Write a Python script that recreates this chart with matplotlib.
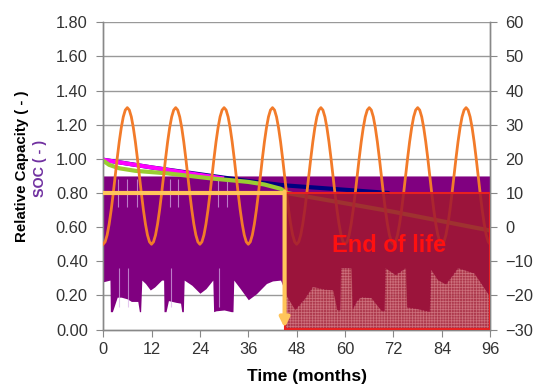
import numpy as np
import matplotlib
matplotlib.use("Agg")
import matplotlib.pyplot as plt
from matplotlib.patches import Rectangle

plt.rcParams['font.family'] = ['Liberation Sans', 'DejaVu Sans']
plt.rcParams['hatch.linewidth'] = 0.5

# ---------------- data ----------------
x_ticks = [0, 12, 24, 36, 48, 60, 72, 84, 96]
left_ticks = [0.0, 0.2, 0.4, 0.6, 0.8, 1.0, 1.2, 1.4, 1.6, 1.8]
right_ticks = [-30, -20, -10, 0, 10, 20, 30, 40, 50, 60]

# SOC band: top level and lower envelope (left axis)
soc_top = 0.90
soc_months = [0, 1.7, 1.8, 2.3, 3.5, 4.5, 6, 7, 8.6, 9.0, 9.3, 9.6, 10.5, 11.7, 12.8,
              14.5, 15.0, 15.1, 15.6, 16.2, 18, 19.2, 19.5, 19.9, 20.1, 22, 24, 25.5,
              27.2, 27.4, 28, 30, 31.8, 32.2, 32.4, 34, 36, 38, 40.5, 42, 44, 45.6,
              47.6, 50, 52, 55, 57, 58, 58.8, 59.0, 61.5, 61.8, 63, 64, 66.5, 69,
              69.8, 70, 72.5, 75, 75.3, 77, 81, 81.3, 83, 85, 88, 92, 96]
soc_min = [0.28, 0.29, 0.105, 0.105, 0.19, 0.19, 0.18, 0.165, 0.165, 0.105, 0.105, 0.29,
           0.27, 0.232, 0.25, 0.29, 0.29, 0.105, 0.105, 0.17, 0.16, 0.155, 0.105, 0.105,
           0.29, 0.26, 0.213, 0.24, 0.29, 0.105, 0.11, 0.115, 0.105, 0.105, 0.29, 0.24,
           0.175, 0.21, 0.27, 0.285, 0.29, 0.193, 0.115, 0.18, 0.25, 0.235, 0.23, 0.115,
           0.115, 0.36, 0.36, 0.115, 0.17, 0.19, 0.185, 0.11, 0.11, 0.36, 0.32, 0.36,
           0.13, 0.125, 0.105, 0.35, 0.29, 0.265, 0.36, 0.33, 0.19]
gap_months_upper = [3.7, 5.9, 8.4, 16.6, 18.6, 28.5, 30.7]
gap_months_lower = [4.0, 6.2, 16.9, 28.8]

# Relative capacity curves (left axis)
cap_magenta_months = [0, 6, 12, 18, 24, 30]
cap_magenta = [0.995, 0.972, 0.95, 0.928, 0.906, 0.885]
cap_navy_months = [0, 12, 24, 30, 36, 45, 56, 64, 71]
cap_navy = [0.995, 0.95, 0.91, 0.89, 0.87, 0.845, 0.826, 0.812, 0.80]
cap_green_months = [0, 1.5, 4, 8, 16, 27, 33, 36, 40, 44, 45.5, 60, 72, 84, 96]
cap_green = [0.99, 0.965, 0.945, 0.93, 0.915, 0.885, 0.872, 0.865, 0.85, 0.825, 0.80,
             0.74, 0.69, 0.635, 0.58]

# Temperature (right axis): one yearly cycle at half-month steps, repeated 8 years
temp_cycle = [-5, -4.3, -2.3, 0.9, 5, 9.8, 15, 20.2, 25, 29.1, 32.3, 34.3,
              35, 34.3, 32.3, 29.1, 25, 20.2, 15, 9.8, 5, 0.9, -2.3, -4.3]
n_years = 8
temp = temp_cycle * n_years + [temp_cycle[0]]
temp_months = [0.5 * i for i in range(len(temp))]

# End-of-life threshold
eol_month = 45
eol_capacity = 0.80
eol_label = "End of life"

# ---------------- figure ----------------
fig = plt.figure(figsize=(5.37, 3.91), dpi=100)
ax = fig.add_axes([0.192, 0.157, 0.721, 0.786])
ax2 = ax.twinx()
ax.set_zorder(ax2.get_zorder() + 1)
ax.patch.set_visible(False)

purple = '#800080'
grid_c = '#999999'

left_lim = (0, 1.8)
right_lim = (-30, 60)
ax.set_xlim(0, 96)
ax.set_ylim(*left_lim)
ax2.set_ylim(*right_lim)

for v in left_ticks[1:]:
    ax.axhline(v, color=grid_c, lw=1.0, zorder=0.5)

# SOC band
ax.fill_between(soc_months, soc_min, soc_top, color=purple, lw=0, zorder=1)
ax.vlines(gap_months_upper, 0.72, 0.885, color='#d8b0e8', lw=0.8, alpha=0.7, zorder=1.1)
ax.vlines(gap_months_lower, 0.13, 0.36, color='#d8b0e8', lw=0.8, alpha=0.7, zorder=1.1)

# capacity curves
ax.plot(cap_navy_months, cap_navy, color='#000080', lw=3, zorder=2, solid_capstyle='butt')
ax.plot(cap_magenta_months, cap_magenta, color='#ff00ff', lw=3, zorder=2.1, solid_capstyle='butt')
ax.plot(cap_green_months, cap_green, color='#9acd32', lw=3, zorder=2.2, solid_capstyle='butt')

# temperature curve: right-axis values mapped onto the left-axis scale
scale = (left_lim[1] - left_lim[0]) / (right_lim[1] - right_lim[0])
temp_on_left = [left_lim[0] + (t - right_lim[0]) * scale for t in temp]
ax.plot(temp_months, temp_on_left, color='#f27b2a', lw=2, zorder=3)

# end-of-life box
ax.add_patch(Rectangle((eol_month, 0.005), 96 - eol_month, eol_capacity - 0.005,
                       facecolor='#a01830', alpha=0.86, edgecolor='none', zorder=4))
# light mesh over the white region under the SOC envelope
sm = np.array(soc_months, dtype=float)
sv = np.array(soc_min, dtype=float)
mask = sm >= eol_month
xs = np.concatenate([[eol_month], sm[mask]])
ys = np.concatenate([[np.interp(eol_month, sm, sv)], sv[mask]])
ax.fill_between(xs, 0.005, ys, facecolor='none', hatch='++++++',
                edgecolor=(1.0, 0.78, 0.78, 0.4), lw=0, zorder=4.1)
ax.add_patch(Rectangle((eol_month, 0.005), 96 - eol_month, eol_capacity - 0.005,
                       facecolor='none', edgecolor='#e82020', lw=1.5, zorder=4.2))

# threshold line and arrow
ax.plot([0, eol_month], [eol_capacity, eol_capacity], color='#ffc55a', lw=3, zorder=5,
        solid_capstyle='butt')
ax.annotate('', xy=(eol_month, 0.01), xytext=(eol_month, eol_capacity + 0.008),
            arrowprops=dict(arrowstyle='-|>', color='#ffc55a', lw=3, mutation_scale=14,
                            shrinkA=0, shrinkB=0), zorder=5)

ax.text(71.0, 0.495, eol_label, color='#ff1010', fontsize=17, fontweight='bold',
        ha='center', va='center', zorder=6)

# axes styling
ax.set_xticks(x_ticks)
ax.set_yticks(left_ticks)
ax.set_yticklabels([f"{v:.2f}" for v in left_ticks])
ax2.set_yticks(right_ticks)
ax.tick_params(axis='both', direction='out', length=5, color='#888888',
               labelsize=11.8, labelcolor='#333333', pad=6)
ax.tick_params(axis='x', pad=4)
ax2.tick_params(axis='y', direction='out', length=5, color='#888888',
                labelsize=11.8, labelcolor='#333333', pad=6)
for a in (ax, ax2):
    a.spines['top'].set_visible(False)
    for s in ('left', 'right', 'bottom'):
        a.spines[s].set_color('#888888')
        a.spines[s].set_linewidth(1.0)

fig.text(22 / 537, 1 - 166 / 391, "Relative Capacity ( - )", rotation=90,
         fontsize=10.8, fontweight='bold', color='black', ha='center', va='center')
fig.text(40 / 537, 1 - 168 / 391, "SOC ( - )", rotation=90,
         fontsize=10.3, fontweight='bold', color='#7030a0', ha='center', va='center')
fig.text(307 / 537, 1 - 377 / 391, "Time (months)", fontsize=12.5,
         fontweight='bold', color='black', ha='center', va='center')

fig.savefig('out.png', dpi=100)
